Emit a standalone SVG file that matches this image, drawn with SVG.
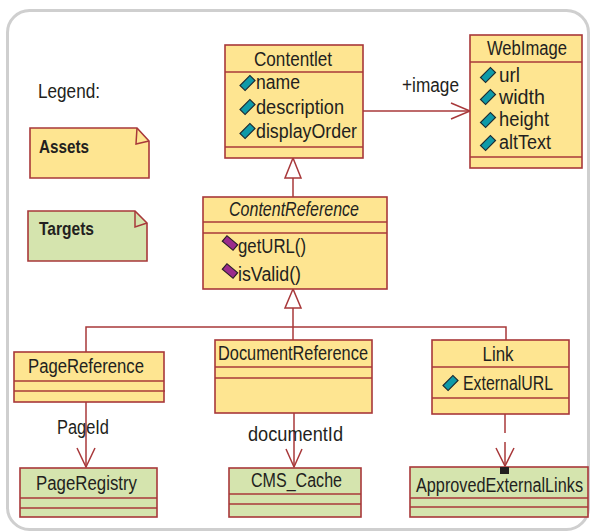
<svg xmlns="http://www.w3.org/2000/svg" xmlns:xlink="http://www.w3.org/1999/xlink" width="591" height="532" viewBox="0 0 591 532">
  <style>
    text { font-family: "Liberation Sans", Arial, sans-serif; font-size: 20px; fill: #231f20; }
    .title { text-anchor: middle; }
    .bold { font-weight: bold; font-size: 19px; }
    .ital { font-style: italic; }
    .narrow { font-size: 16.5px; }
    .asset { fill: #fee591; stroke: #a8383a; stroke-width: 1.6; }
    .target { fill: #d5e4ae; stroke: #a8383a; stroke-width: 1.6; }
    .sep { stroke: #a8383a; stroke-width: 1.5; fill: none; }
    .conn { stroke: #a8383a; stroke-width: 1.5; fill: none; }
    .open { stroke: #a8383a; stroke-width: 1.5; fill: none; }
    .hollow { stroke: #a8383a; stroke-width: 1.5; fill: #ffffff; }
    .attr { fill: #0e9aa8; stroke: #1c2b33; stroke-width: 1.2; }
    .op { fill: #9b2b8c; stroke: #2a1f2a; stroke-width: 1.2; }
    .end { fill: #231f20; }
  </style>
  <defs>
    <!-- attribute marker: tilted teal bar -->
    <g id="attrIcon"><rect class="attr" x="-7" y="-3.6" width="14" height="7.2" transform="rotate(-45)"/></g>
    <!-- operation marker: tilted purple bar -->
    <g id="opIcon"><rect class="op" x="-7" y="-3.6" width="14" height="7.2" transform="rotate(40)"/></g>
  </defs>

  <!-- frame -->
  <rect x="7.5" y="10.5" width="581" height="519" rx="22" fill="#ffffff" stroke="#cfcfcf" stroke-width="3"/>

  <!-- legend -->
  <g id="legend">
    <text x="38" y="98" textLength="62" lengthAdjust="spacingAndGlyphs">Legend:</text>
  </g>
  <g id="legend-assets">
    <path class="asset" d="M30,128 H137 L149,141 V178 H30 Z"/>
    <path class="sep" d="M137,128 L136,144 L149,141"/>
    <text class="bold" x="39" y="153" textLength="50" lengthAdjust="spacingAndGlyphs">Assets</text>
  </g>
  <g id="legend-targets">
    <path class="target" d="M28,211 H135 L147,223 V261 H28 Z"/>
    <path class="sep" d="M135,211 L135,227 L147,223"/>
    <text class="bold" x="39" y="235" textLength="55" lengthAdjust="spacingAndGlyphs">Targets</text>
  </g>

  <!-- connectors -->
  <g id="connectors">
    <!-- generalization: ContentReference -> Contentlet -->
    <line class="conn" x1="293" y1="178" x2="293" y2="197"/>
    <polygon class="hollow" points="293,158 285,178 301,178"/>
    <!-- generalization: subclasses -> ContentReference -->
    <polyline class="conn" points="86,352 86,327 506,327 506,340"/>
    <line class="conn" x1="293" y1="308" x2="293" y2="340"/>
    <polygon class="hollow" points="293,289 285,308 301,308"/>
    <!-- association Contentlet -> WebImage -->
    <line class="conn" x1="363" y1="111" x2="470" y2="111"/>
    <polyline class="open" points="451,103 470,111 451,119"/>
    <text x="402" y="92" textLength="57" lengthAdjust="spacingAndGlyphs">+image</text>
    <!-- PageReference -> PageRegistry -->
    <line class="conn" x1="86" y1="402" x2="86" y2="467"/>
    <polyline class="open" points="77,448 86,467 95,448"/>
    <text x="57" y="434" textLength="52" lengthAdjust="spacingAndGlyphs">PageId</text>
    <!-- DocumentReference -> CMS_Cache -->
    <line class="conn" x1="294" y1="413" x2="294" y2="467"/>
    <polyline class="open" points="286,449 294,467 302,449"/>
    <text x="248" y="441" textLength="95" lengthAdjust="spacingAndGlyphs">documentId</text>
    <!-- Link -> ApprovedExternalLinks (dashed) -->
    <line class="conn" x1="505" y1="414" x2="505" y2="433"/>
    <line class="conn" x1="505" y1="442" x2="505" y2="466"/>
    <polyline class="open" points="496,448 505,466 514,448"/>
    <rect class="end" x="500" y="405" width="9" height="9"/>
  </g>

  <!-- Contentlet -->
  <g id="Contentlet">
    <rect class="asset" x="225" y="45" width="138" height="113"/>
    <line class="sep" x1="225" y1="72" x2="363" y2="72"/>
    <line class="sep" x1="225" y1="147" x2="363" y2="147"/>
    <text class="title" x="293" y="66" textLength="78" lengthAdjust="spacingAndGlyphs">Contentlet</text>
    <use xlink:href="#attrIcon" x="247.5" y="83"/>
    <text x="256" y="89" textLength="44" lengthAdjust="spacingAndGlyphs">name</text>
    <use xlink:href="#attrIcon" x="247.5" y="107"/>
    <text x="256" y="114" textLength="88" lengthAdjust="spacingAndGlyphs">description</text>
    <use xlink:href="#attrIcon" x="247.5" y="131"/>
    <text x="256" y="138" textLength="101" lengthAdjust="spacingAndGlyphs">displayOrder</text>
  </g>

  <!-- WebImage -->
  <g id="WebImage">
    <rect class="asset" x="470" y="35" width="112" height="133"/>
    <line class="sep" x1="470" y1="62" x2="582" y2="62"/>
    <line class="sep" x1="470" y1="157" x2="582" y2="157"/>
    <text class="title" x="527" y="55" textLength="80" lengthAdjust="spacingAndGlyphs">WebImage</text>
    <use xlink:href="#attrIcon" x="488" y="75"/>
    <text x="499" y="82" textLength="21" lengthAdjust="spacingAndGlyphs">url</text>
    <use xlink:href="#attrIcon" x="488" y="97"/>
    <text x="499" y="104" textLength="46" lengthAdjust="spacingAndGlyphs">width</text>
    <use xlink:href="#attrIcon" x="488" y="120"/>
    <text x="499" y="126" textLength="50" lengthAdjust="spacingAndGlyphs">height</text>
    <use xlink:href="#attrIcon" x="488" y="143"/>
    <text x="499" y="149" textLength="52" lengthAdjust="spacingAndGlyphs">altText</text>
  </g>

  <!-- ContentReference -->
  <g id="ContentReference">
    <rect class="asset" x="203" y="197" width="184" height="92"/>
    <line class="sep" x1="203" y1="222" x2="387" y2="222"/>
    <line class="sep" x1="203" y1="233" x2="387" y2="233"/>
    <text class="ital" x="229" y="216" textLength="130" lengthAdjust="spacingAndGlyphs">ContentReference</text>
    <use xlink:href="#opIcon" x="230" y="243"/>
    <text x="238" y="253" textLength="68" lengthAdjust="spacingAndGlyphs">getURL()</text>
    <use xlink:href="#opIcon" x="230" y="271"/>
    <text x="238" y="281" textLength="63" lengthAdjust="spacingAndGlyphs">isValid()</text>
  </g>

  <!-- PageReference -->
  <g id="PageReference">
    <rect class="asset" x="14" y="352" width="150" height="50"/>
    <line class="sep" x1="14" y1="381" x2="164" y2="381"/>
    <line class="sep" x1="14" y1="391" x2="165" y2="391"/>
    <text x="28" y="373" textLength="116" lengthAdjust="spacingAndGlyphs">PageReference</text>
  </g>

  <!-- DocumentReference -->
  <g id="DocumentReference">
    <rect class="asset" x="215" y="340" width="157" height="73"/>
    <line class="sep" x1="215" y1="367" x2="372" y2="367"/>
    <line class="sep" x1="215" y1="378" x2="372" y2="378"/>
    <text x="218" y="360" textLength="150" lengthAdjust="spacingAndGlyphs">DocumentReference</text>
  </g>

  <!-- Link -->
  <g id="Link">
    <rect class="asset" x="432" y="340" width="137" height="74"/>
    <line class="sep" x1="432" y1="367" x2="569" y2="367"/>
    <line class="sep" x1="432" y1="398" x2="569" y2="398"/>
    <text class="title" x="498" y="361" textLength="31" lengthAdjust="spacingAndGlyphs">Link</text>
    <use xlink:href="#attrIcon" x="450.5" y="383"/>
    <text x="463" y="390" textLength="90" lengthAdjust="spacingAndGlyphs">ExternalURL</text>
  </g>

  <!-- PageRegistry -->
  <g id="PageRegistry">
    <rect class="target" x="20" y="468" width="137" height="49"/>
    <line class="sep" x1="20" y1="498" x2="157" y2="498"/>
    <line class="sep" x1="20" y1="508" x2="157" y2="508"/>
    <text x="36" y="490" textLength="101" lengthAdjust="spacingAndGlyphs">PageRegistry</text>
  </g>

  <!-- CMS_Cache -->
  <g id="CMS_Cache">
    <rect class="target" x="229" y="468" width="132" height="49"/>
    <line class="sep" x1="229" y1="494" x2="361" y2="494"/>
    <line class="sep" x1="229" y1="504" x2="361" y2="504"/>
    <text x="251" y="487" textLength="91" lengthAdjust="spacingAndGlyphs">CMS_Cache</text>
  </g>

  <!-- ApprovedExternalLinks -->
  <g id="ApprovedExternalLinks">
    <rect class="target" x="410" y="467" width="178" height="50"/>
    <line class="sep" x1="410" y1="498" x2="588" y2="498"/>
    <line class="sep" x1="410" y1="507" x2="588" y2="507"/>
    <rect class="end" x="500" y="467" width="9" height="7"/>
    <text class="narrow" transform="translate(416,492) scale(1,1.2)" x="0" y="0" textLength="167" lengthAdjust="spacingAndGlyphs">ApprovedExternalLinks</text>
  </g>
</svg>
